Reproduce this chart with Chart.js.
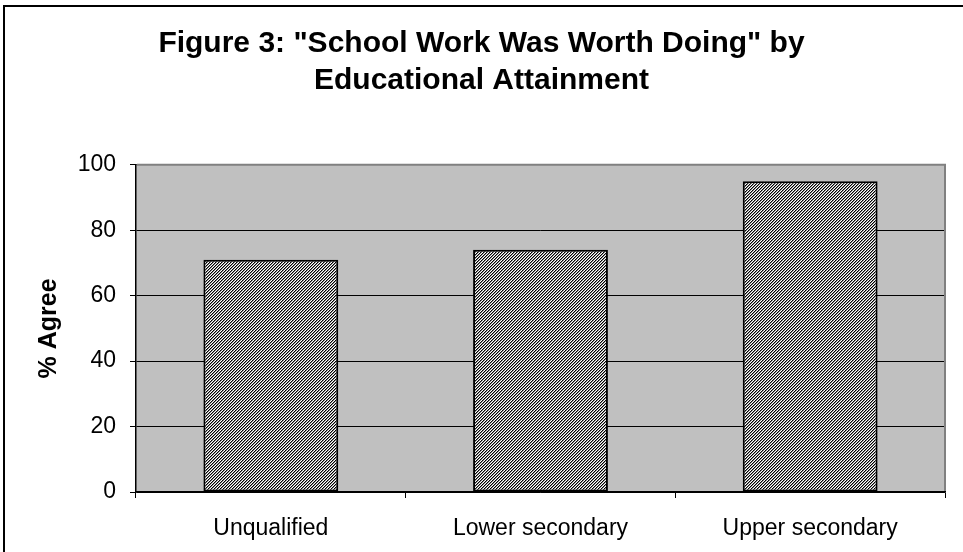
<!DOCTYPE html>
<html>
<head>
<meta charset="utf-8">
<script src="https://cdn.jsdelivr.net/npm/chart.js@4"></script>
<style>
  body { margin: 0; background: #fff; }
  #wrap { width: 963px; height: 552px; }
</style>
</head>
<body>
<div id="wrap"><canvas id="grafico" width="963" height="552"></canvas></div>
<script>
// dados do gráfico
const categorias = ["Unqualified", "Lower secondary", "Upper secondary"];
const valores = [71, 74, 95];
const tituloLinhas = ['Figure 3: "School Work Was Worth Doing" by', 'Educational Attainment'];
const tituloEixoY = "% Agree";

const fonte = "'Liberation Sans', Arial, sans-serif";

// padrão hachurado das barras (diagonais finas)
function criarPadrao() {
    const c = document.createElement("canvas");
    c.width = 3;
    c.height = 3;
    const g = c.getContext("2d");
    const cores = ["#000000", "#8a8a8a", "#ffffff"];
    for (let y = 0; y < 3; y++) {
        for (let x = 0; x < 3; x++) {
            g.fillStyle = cores[(x + y) % 3];
            g.fillRect(x, y, 1, 1);
        }
    }
    return g.createPattern(c, "repeat");
}

// fundo cinza da área do gráfico + moldura externa
const fundoPlugin = {
    id: "fundo",
    beforeDraw(chart) {
        const { ctx, chartArea: a } = chart;
        ctx.save();
        ctx.fillStyle = "#c0c0c0";
        ctx.fillRect(a.left, a.top, a.right - a.left, a.bottom - a.top);
        // moldura externa
        ctx.strokeStyle = "#000";
        ctx.lineWidth = 2;
        ctx.beginPath();
        ctx.moveTo(4, 552);
        ctx.lineTo(4, 6);
        ctx.lineTo(963, 6);
        ctx.stroke();
        ctx.restore();
    },
    afterDraw(chart) {
        const { ctx, chartArea: a } = chart;
        ctx.save();
        ctx.strokeStyle = "#808080";
        ctx.lineWidth = 2;
        ctx.beginPath();
        ctx.moveTo(a.left + 1, a.top);
        ctx.lineTo(a.right, a.top);
        ctx.lineTo(a.right, a.bottom - 1);
        ctx.stroke();
        ctx.restore();
    }
};

const ctx = document.getElementById("grafico").getContext("2d");

new Chart(ctx, {
    type: "bar",
    data: {
        labels: categorias,
        datasets: [{
            data: valores,
            backgroundColor: criarPadrao(),
            borderColor: "#000",
            borderWidth: 2,
            borderSkipped: false,
            barPercentage: 0.5,
            categoryPercentage: 1
        }]
    },
    options: {
        responsive: false,
        animation: false,
        layout: { padding: { left: 18, right: 18, top: 0, bottom: 0 } },
        plugins: {
            legend: { display: false },
            tooltip: { enabled: false },
            title: {
                display: true,
                text: tituloLinhas,
                color: "#000",
                font: { family: fonte, size: 30, weight: "bold", lineHeight: 1.23 },
                padding: { top: 25, bottom: 66 }
            }
        },
        scales: {
            x: {
                offset: true,
                afterFit(scale) { scale.height = 60; },
                grid: { offset: true, drawOnChartArea: false, color: "#000", tickLength: 6 },
                border: { color: "#000", width: 1.5 },
                ticks: {
                    color: "#000",
                    padding: 17,
                    font: { family: fonte, size: 23 }
                }
            },
            y: {
                min: 0,
                max: 100,
                afterFit(scale) { scale.width = 118; },
                ticks: {
                    stepSize: 20,
                    color: "#000",
                    padding: 14,
                    font: { family: fonte, size: 23 }
                },
                grid: { color: "#000", lineWidth: 1, tickLength: 6 },
                border: { color: "#000", width: 1.5 },
                title: {
                    display: true,
                    text: tituloEixoY,
                    color: "#000",
                    padding: { top: 16, bottom: 0 },
                    font: { family: fonte, size: 25, weight: "bold" }
                }
            }
        }
    },
    plugins: [fundoPlugin]
});
</script>
</body>
</html>
